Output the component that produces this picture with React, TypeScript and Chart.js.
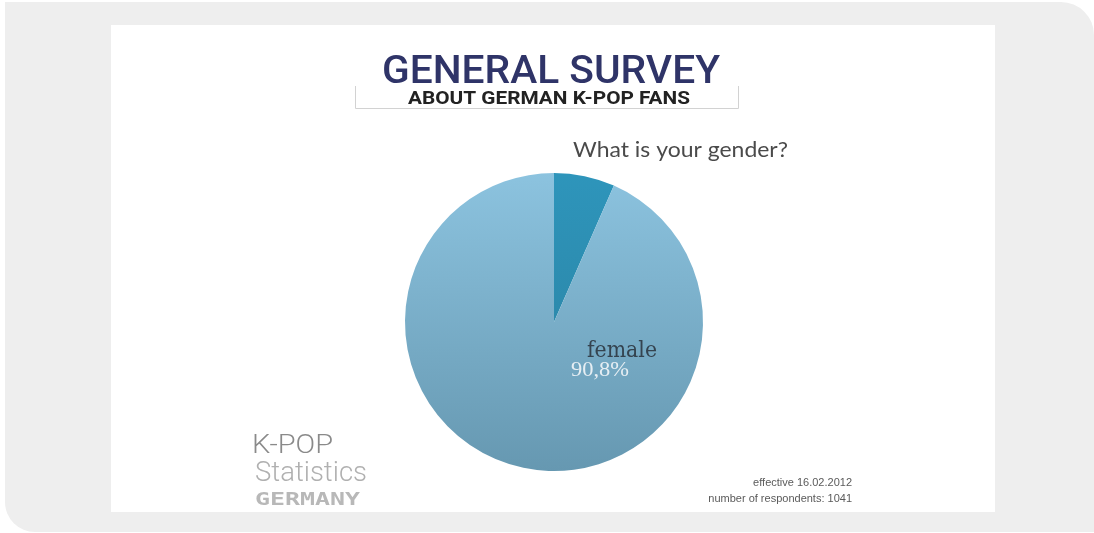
import React, { useEffect, useRef } from "react";
import { Chart, registerables } from "chart.js";

Chart.register(...registerables);

const categories = ["male", "female"];
const values = [6.4, 90.8];
const valueLabels = ["", "90,8%"];
const titleMain = "GENERAL SURVEY";
const titleSub = "ABOUT GERMAN K-POP FANS";
const question = "What is your gender?";
const footerLines = ["effective 16.02.2012", "number of respondents: 1041"];
const brandLines = ["K-POP", "Statistics", "GERMANY"];

const topColors = ["#2e95bb", "#8cc3df"];
const bottomColors = ["#2a7f9e", "#6698b1"];

function drawFit(ctx: CanvasRenderingContext2D, text: string, x: number, y: number, width: number, font: string, color: string) {
  ctx.save();
  ctx.font = font;
  ctx.fillStyle = color;
  ctx.textAlign = "left";
  ctx.textBaseline = "alphabetic";
  const w = ctx.measureText(text).width;
  ctx.translate(x, y);
  ctx.scale(width / w, 1);
  ctx.fillText(text, 0, 0);
  ctx.restore();
}

const textPlugin = {
  id: "surveyText",
  afterDraw(chart: any) {
    const ctx = chart.ctx as CanvasRenderingContext2D;
    ctx.save();
    ctx.strokeStyle = "#d2d2d2";
    ctx.lineWidth = 1;
    ctx.beginPath();
    ctx.moveTo(244.5, 61);
    ctx.lineTo(244.5, 83.5);
    ctx.lineTo(627.5, 83.5);
    ctx.lineTo(627.5, 61);
    ctx.stroke();
    ctx.restore();

    drawFit(ctx, titleMain, 271, 58, 338, "500 39px Roboto", "#2f3468");
    drawFit(ctx, titleSub, 297, 79, 282, "bold 18px Roboto", "#222222");
    drawFit(ctx, question, 462, 132, 215, "21px Lato", "#4a4a4a");

    drawFit(ctx, brandLines[0], 141, 428, 81, "300 25px Roboto", "#8a8a8a");
    drawFit(ctx, brandLines[1], 144, 456, 112, "300 28px Roboto", "#b0b0b0");
    drawFit(ctx, brandLines[2], 144, 480, 105, "bold 18px 'DejaVu Sans Mono'", "#b8b8b8");

    ctx.save();
    ctx.font = "11px 'Liberation Sans'";
    ctx.fillStyle = "#5a5a5a";
    ctx.textAlign = "right";
    ctx.fillText(footerLines[0], 741, 461);
    ctx.fillText(footerLines[1], 741, 477);
    ctx.restore();

    const arc = chart.getDatasetMeta(0).data[1];
    if (arc) {
      const cx = arc.x;
      const cy = arc.y;
      drawFit(ctx, categories[1], cx + 33, cy + 35, 70, "22px 'DejaVu Serif'", "#34434f");
      drawFit(ctx, valueLabels[1], cx + 17, cy + 54, 58, "21px 'Liberation Serif'", "#e6eef3");
    }
  },
};

export default function App() {
  const ref = useRef<HTMLCanvasElement | null>(null);
  useEffect(() => {
    if (!ref.current) return;
    const chart = new Chart(ref.current, {
      type: "pie",
      data: {
        labels: categories,
        datasets: [
          {
            data: values,
            borderWidth: 0,
            backgroundColor: (c: any) => {
              const chart = c.chart;
              const area = chart.chartArea;
              const i = c.dataIndex ?? 0;
              if (!area) return topColors[i];
              const g = chart.ctx.createLinearGradient(0, area.top, 0, area.bottom);
              g.addColorStop(0, topColors[i]);
              g.addColorStop(1, bottomColors[i]);
              return g;
            },
          },
        ],
      },
      options: {
        animation: false,
        responsive: false,
        maintainAspectRatio: false,
        layout: { padding: { top: 148, bottom: 41, left: 294, right: 292 } },
        plugins: { legend: { display: false }, tooltip: { enabled: false }, title: { display: false } },
      },
      plugins: [textPlugin],
    });
    return () => chart.destroy();
  }, []);

  return (
    <div style={{ position: "fixed", left: 0, top: 0, width: 1094, height: 533, background: "#ffffff", overflow: "hidden" }}>
      <div
        style={{
          position: "absolute",
          left: 5,
          top: 2,
          width: 1089,
          height: 530,
          background: "#eeeeee",
          borderTopRightRadius: 33,
          borderBottomLeftRadius: 30,
        }}
      />
      <div style={{ position: "absolute", left: 111, top: 25, width: 884, height: 487, background: "#ffffff" }}>
        <canvas ref={ref} width={884} height={487} style={{ display: "block", width: 884, height: 487 }} />
      </div>
    </div>
  );
}
